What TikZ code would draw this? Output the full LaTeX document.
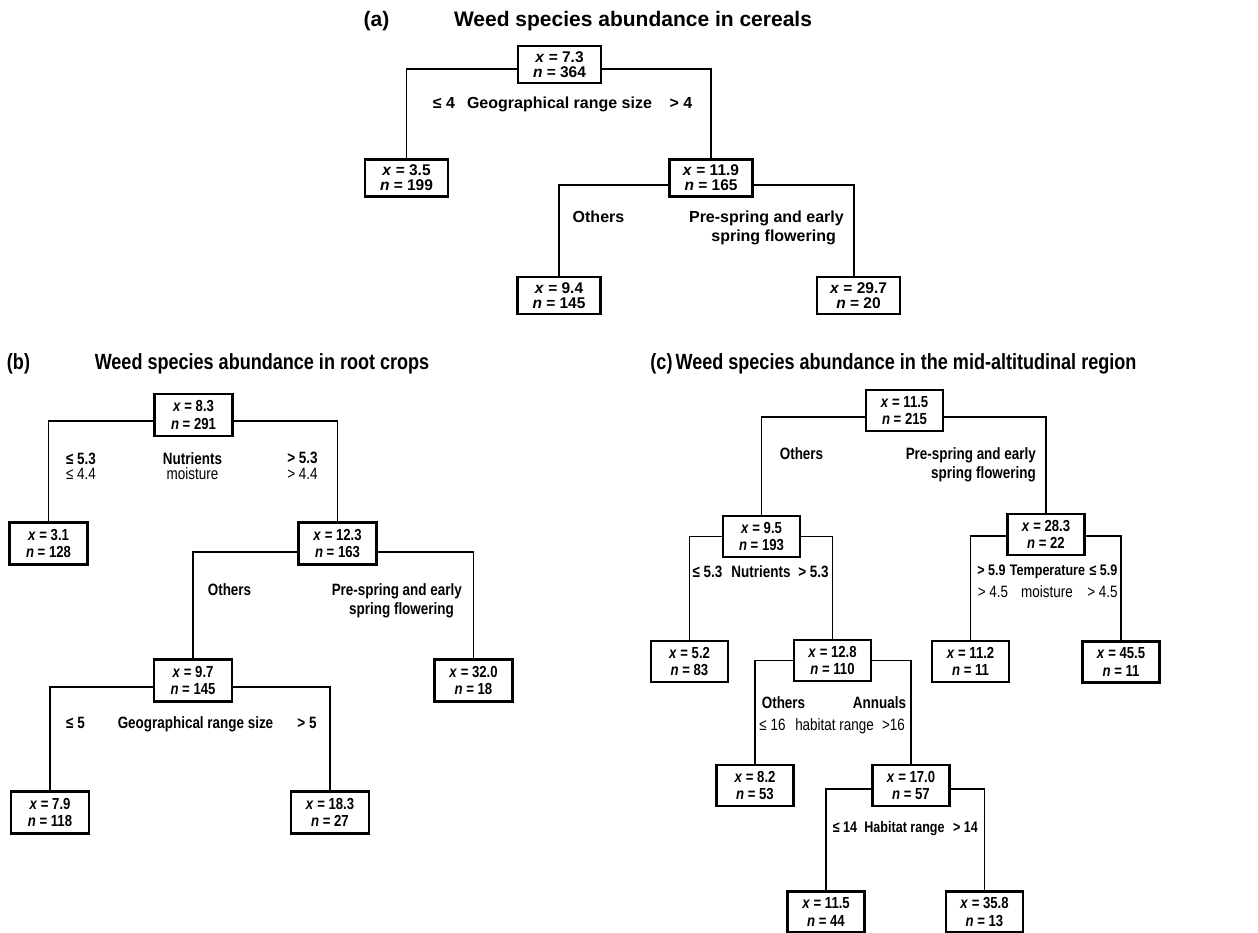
\documentclass[tikz,border=0pt]{standalone}
\usepackage{fontspec}
\setmainfont{Liberation Sans}
\newfontfamily\nf[FakeStretch=0.82]{Liberation Sans}
\begin{document}
\begin{tikzpicture}[x=1pt,y=-1pt,
 conn/.style={line width=1.9pt},
 abox/.style={draw, line width=2.1pt, minimum width=83pt, minimum height=37pt, inner sep=0pt, align=center, font=\fontsize{15.5}{15}\selectfont\bfseries},
 bbox/.style={draw, line width=2.1pt, minimum width=78pt, minimum height=42pt, inner sep=0pt, align=center, font=\nf\fontsize{16}{17.5}\selectfont\bfseries},
 cbox/.style={draw, line width=2.1pt, minimum width=77pt, minimum height=41pt, inner sep=0pt, align=center, font=\nf\fontsize{16}{17.5}\selectfont\bfseries},
 alab/.style={inner sep=0pt, anchor=base, font=\fontsize{16}{19}\selectfont\bfseries},
 clab/.style={inner sep=0pt, anchor=base, font=\nf\fontsize{16.4}{19}\selectfont\bfseries},
 clabs/.style={inner sep=0pt, anchor=base, font=\nf\fontsize{15.3}{19}\selectfont\bfseries},
 creg/.style={inner sep=0pt, anchor=base, font=\nf\fontsize{16.4}{19}\selectfont\mdseries},
 atitle/.style={inner sep=0pt, anchor=base, font=\fontsize{21}{21}\selectfont\bfseries},
 ctitle/.style={inner sep=0pt, anchor=base, font=\nf\fontsize{22}{22}\selectfont\bfseries},
 amulti/.style={inner sep=0pt, anchor=east, align=right, font=\fontsize{16}{19}\selectfont\bfseries},
 cmulti/.style={inner sep=0pt, anchor=east, align=right, font=\nf\fontsize{16.4}{19}\selectfont\bfseries},
]
\useasboundingbox (0,0) rectangle (1258,932);

% ---------------- (a) ----------------
\node[atitle] (ta) at (376.5,26) {(a)};
\node[atitle] (tat) at (633,26) {Weed species abundance in cereals};
\node[abox] (a0) at (559.5,64.5) {\textit{x} = 7.3\\\textit{n} = 364};
\node[abox] (a1) at (406.5,178) {\textit{x} = 3.5\\\textit{n} = 199};
\node[abox] (a2) at (711,178) {\textit{x} = 11.9\\\textit{n} = 165};
\node[abox] (a3) at (559,295.5) {\textit{x} = 9.4\\\textit{n} = 145};
\node[abox] (a4) at (858.5,295.5) {\textit{x} = 29.7\\\textit{n} = 20};
\draw[conn] ([yshift=-4.5pt]a0.west) -| (a1.north);
\draw[conn] ([yshift=-4.5pt]a0.east) -| (a2.north);
\draw[conn] ([yshift=-7pt]a2.west) -| (a3.north);
\draw[conn] ([yshift=-7pt]a2.east) -| ([xshift=-4.5pt]a4.north);
\node[alab] (la1) at (444,108) {≤ 4};
\node[alab] (la2) at (559.5,108) {Geographical range size};
\node[alab] (la3) at (681,108) {> 4};
\node[alab] (la4) at (598.5,222) {Others};
\node[amulti] (la5) at (844,227.4) {Pre-spring and early\\spring flowering\hspace*{8pt}};

% ---------------- (b) ----------------
\node[ctitle] (tb) at (18.5,369) {(b)};
\node[ctitle] (tbt) at (262,369) {Weed species abundance in root crops};
\node[bbox] (b0) at (193.5,415) {\textit{x} = 8.3\\\textit{n} = 291};
\node[bbox] (b1) at (48.5,543.5) {\textit{x} = 3.1\\\textit{n} = 128};
\node[bbox] (b2) at (337.5,543.5) {\textit{x} = 12.3\\\textit{n} = 163};
\node[bbox] (b3) at (193,680.5) {\textit{x} = 9.7\\\textit{n} = 145};
\node[bbox] (b4) at (473.5,680.5) {\textit{x} = 32.0\\\textit{n} = 18};
\node[bbox] (b5) at (50,812.5) {\textit{x} = 7.9\\\textit{n} = 118};
\node[bbox] (b6) at (330,812.5) {\textit{x} = 18.3\\\textit{n} = 27};
\draw[conn] ([yshift=-6pt]b0.west) -| (b1.north);
\draw[conn] ([yshift=-6pt]b0.east) -| (b2.north);
\draw[conn] ([yshift=-8.5pt]b2.west) -| (b3.north);
\draw[conn] ([yshift=-8.5pt]b2.east) -| (b4.north);
\draw[conn] ([yshift=-6.5pt]b3.west) -| (b5.north);
\draw[conn] ([yshift=-6.5pt]b3.east) -| (b6.north);
\node[clab] (lb1) at (81,464) {≤ 5.3};
\node[creg] (lb2) at (81,479) {≤ 4.4};
\node[clab] (lb3) at (192.5,464) {Nutrients};
\node[creg] (lb4) at (192.5,479) {moisture};
\node[clab] (lb5) at (302.5,463) {> 5.3};
\node[creg] (lb6) at (302.5,479) {> 4.4};
\node[clab] (lb7) at (229.5,595) {Others};
\node[cmulti] (lb8) at (462,600.4) {Pre-spring and early\\spring flowering\hspace*{8pt}};
\node[clab] (lb9) at (75.5,728) {≤ 5};
\node[clab] (lb10) at (195.5,728) {Geographical range size};
\node[clab] (lb11) at (307,728) {> 5};

% ---------------- (c) ----------------
\node[ctitle] (tc) at (661.5,369) {(c)};
\node[ctitle] (tct) at (906,369) {Weed species abundance in the mid-altitudinal region};
\node[cbox] (c0) at (904.5,410.5) {\textit{x} = 11.5\\\textit{n} = 215};
\node[cbox] (c1) at (761.5,536.5) {\textit{x} = 9.5\\\textit{n} = 193};
\node[cbox] (c2) at (1046,534.5) {\textit{x} = 28.3\\\textit{n} = 22};
\node[cbox] (c3) at (689.5,661.5) {\textit{x} = 5.2\\\textit{n} = 83};
\node[cbox] (c4) at (832.5,660.5) {\textit{x} = 12.8\\\textit{n} = 110};
\node[cbox] (c5) at (970.5,661.5) {\textit{x} = 11.2\\\textit{n} = 11};
\node[cbox] (c6) at (1121,662) {\textit{x} = 45.5\\\textit{n} = 11};
\node[cbox] (c7) at (755,785.5) {\textit{x} = 8.2\\\textit{n} = 53};
\node[cbox] (c8) at (911,785.5) {\textit{x} = 17.0\\\textit{n} = 57};
\node[cbox] (c9) at (826,912) {\textit{x} = 11.5\\\textit{n} = 44};
\node[cbox] (c10) at (984.5,912) {\textit{x} = 35.8\\\textit{n} = 13};
\draw[conn] ([yshift=-6.5pt]c0.west) -| (c1.north);
\draw[conn] ([yshift=-6.5pt]c0.east) -| (c2.north);
\draw[conn] (c1.west) -| (c3.north);
\draw[conn] (c1.east) -| (c4.north);
\draw[conn] ([yshift=-1.5pt]c2.west) -| (c5.north);
\draw[conn] ([yshift=-1.5pt]c2.east) -| (c6.north);
\draw[conn] (c4.west) -| (c7.north);
\draw[conn] (c4.east) -| (c8.north);
\draw[conn] ([yshift=-3.5pt]c8.west) -| (c9.north);
\draw[conn] ([yshift=-3.5pt]c8.east) -| (c10.north);
\node[clab] (lc1) at (801.5,459) {Others};
\node[cmulti] (lc2) at (1036,464.4) {Pre-spring and early\\spring flowering};
\node[clab] (lc3) at (707.5,577) {≤ 5.3};
\node[clab] (lc4) at (761,577) {Nutrients};
\node[clab] (lc5) at (813.5,577) {> 5.3};
\node[clabs] (lc6) at (991.5,575) {> 5.9};
\node[clabs] (lc7) at (1047.5,575) {Temperature};
\node[clabs] (lc8) at (1103.5,575) {≤ 5.9};
\node[creg] (lc9) at (993,597) {> 4.5};
\node[creg] (lc10) at (1047,597) {moisture};
\node[creg] (lc11) at (1102.5,597) {> 4.5};
\node[clab] (lc12) at (783.5,708) {Others};
\node[clab] (lc13) at (879.5,708) {Annuals};
\node[creg] (lc14) at (772.5,730) {≤ 16};
\node[creg] (lc15) at (834.5,730) {habitat range};
\node[creg] (lc16) at (893.5,730) {>16};
\node[clabs] (lc17) at (845,832) {≤ 14};
\node[clabs] (lc18) at (904.5,832) {Habitat range};
\node[clabs] (lc19) at (965.5,832) {> 14};
\end{tikzpicture}
\end{document}
